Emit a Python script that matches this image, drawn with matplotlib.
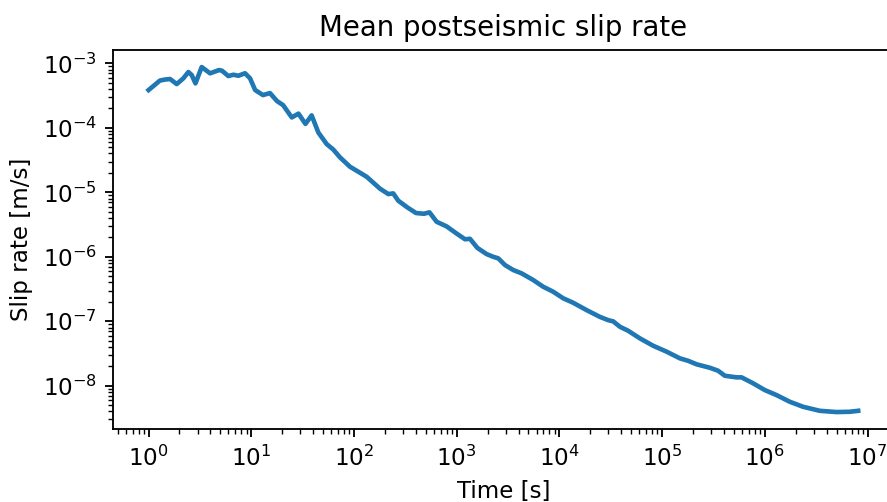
import numpy as np
import matplotlib
matplotlib.use('Agg')
import matplotlib.pyplot as plt

# mean slip rate after the mainshock, sampled along the averaged curve
time_s = [1.0, 1.29, 1.45, 1.62, 1.88, 2.18, 2.44, 2.63, 2.86, 3.29,
          3.97, 4.86, 5.19, 5.98, 6.69, 7.48, 8.69, 9.73, 10.9, 13.0,
          15.2, 17.8, 20.4, 24.8, 28.8, 33.7, 38.7, 45.0, 54.2, 62.9,
          73.1, 91.5, 114.5, 133, 179, 216, 241, 270, 332, 402,
          480, 543, 638, 798, 984, 1205, 1347, 1593, 1959, 2270,
          2541, 2953, 3555, 4289, 5560, 6960, 8710, 1.09e4, 1.36e4, 1.84e4,
          2.48e4, 2.99e4, 3.34e4, 3.88e4, 4.67e4, 6.08e4, 8.19e4, 1.11e5, 1.49e5, 1.79e5,
          2.17e5, 2.92e5, 3.51e5, 4.08e5, 5.31e5, 5.94e5, 7.71e5, 1.0e6, 1.30e6, 1.75e6,
          2.36e6, 3.43e6, 4.99e6, 6.73e6, 8.11e6]
slip_rate = [3.85e-4, 5.41e-4, 5.61e-4, 5.71e-4, 4.77e-4, 5.85e-4, 7.33e-4, 6.59e-4, 4.89e-4, 8.76e-4,
             7.0e-4, 7.87e-4, 7.68e-4, 6.35e-4, 6.66e-4, 6.42e-4, 7.02e-4, 5.85e-4, 3.86e-4, 3.22e-4,
             3.46e-4, 2.60e-4, 2.25e-4, 1.45e-4, 1.66e-4, 1.15e-4, 1.56e-4, 8.45e-5, 5.6e-5, 4.6e-5,
             3.48e-5, 2.49e-5, 2.01e-5, 1.74e-5, 1.14e-5, 9.39e-6, 9.63e-6, 7.4e-6, 5.81e-6, 4.77e-6,
             4.65e-6, 4.89e-6, 3.49e-6, 2.96e-6, 2.33e-6, 1.87e-6, 1.90e-6, 1.37e-6, 1.10e-6, 1.0e-6,
             9.46e-7, 7.45e-7, 6.23e-7, 5.53e-7, 4.36e-7, 3.43e-7, 2.87e-7, 2.27e-7, 1.94e-7, 1.49e-7,
             1.17e-7, 1.04e-7, 9.97e-8, 8.23e-8, 7.13e-8, 5.43e-8, 4.17e-8, 3.37e-8, 2.66e-8, 2.44e-8,
             2.15e-8, 1.90e-8, 1.71e-8, 1.43e-8, 1.35e-8, 1.35e-8, 1.09e-8, 8.57e-9, 7.17e-9, 5.65e-9,
             4.72e-9, 4.09e-9, 3.91e-9, 3.95e-9, 4.09e-9]

DPI = 166
fig = plt.figure(figsize=(887 / DPI, 502 / DPI), dpi=DPI)
ax = fig.add_axes([0.1275, 0.1448, 0.880, 0.756])

ax.loglog(time_s, slip_rate, color='tab:blue', linewidth=2.0)

ax.set_xlabel('Time [s]')
ax.set_ylabel('Slip rate [m/s]')
ax.set_title('Mean postseismic slip rate')

fig.savefig('out.png', dpi=DPI)
